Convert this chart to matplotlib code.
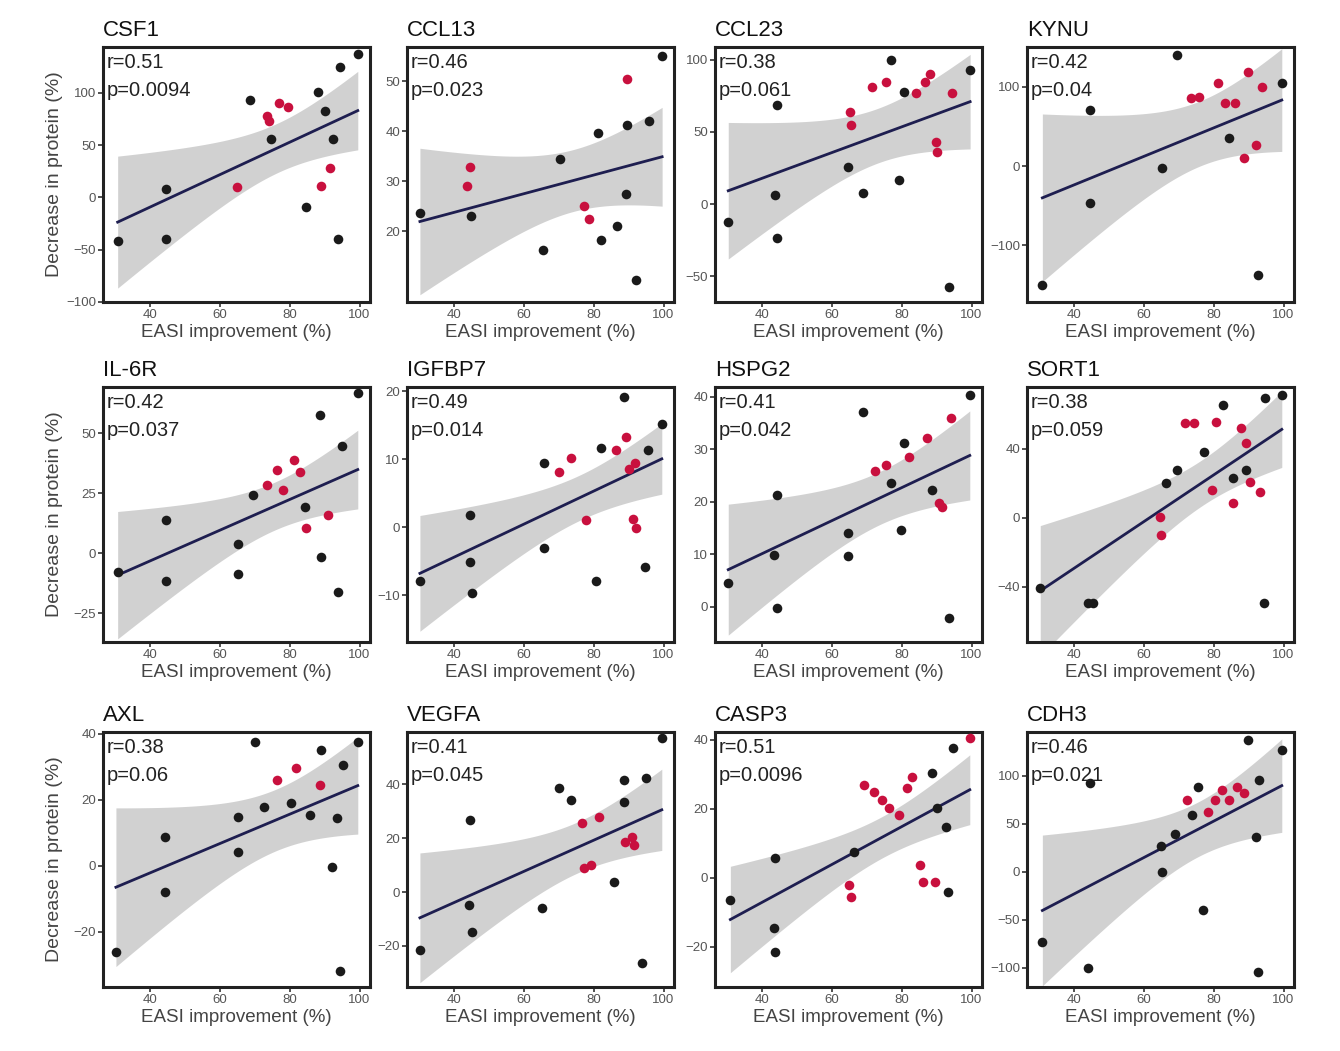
import numpy as np
import matplotlib
matplotlib.use("Agg")
import matplotlib.pyplot as plt

plt.rcParams['font.family'] = ['Liberation Sans', 'DejaVu Sans']

# ---------------- data ----------------
CSF1_X = [30.7, 44.5, 44.5, 64.9, 68.7, 73.5, 74.1, 74.7, 76.8, 79.6, 88.2, 90.1, 92.5, 91.5, 89.1, 84.8, 94.3, 93.9, 99.5]
CSF1_Y = [-42, 7.7, -39.4, 9.6, 93.3, 78.2, 72.8, 55.8, 90.1, 87, 100.7, 83, 55.8, 28.5, 10.9, -9.3, 124.7, -39.4, 137.5]
CSF1_RED = [0, 0, 0, 1, 0, 1, 1, 0, 1, 1, 0, 0, 0, 1, 1, 0, 0, 0, 0]

CCL13_X = [30.2, 44.5, 43.7, 44.7, 65.4, 70.2, 81.1, 77.3, 78.7, 82.0, 86.7, 89.5, 95.7, 89.5, 99.6, 92.1, 89.2]
CCL13_Y = [23.7, 32.8, 29.1, 23.0, 16.3, 34.5, 39.6, 25.1, 22.5, 18.3, 21.1, 41.3, 42.0, 50.4, 55.1, 10.2, 27.4]
CCL13_RED = [0, 1, 1, 0, 0, 0, 0, 1, 1, 0, 0, 0, 0, 1, 0, 0, 0]

CCL23_X = [30.3, 44.2, 43.8, 44.2, 64.7, 68.9, 65.1, 65.6, 71.6, 75.4, 76.8, 79.2, 80.6, 84.0, 86.8, 88.2, 94.4, 89.7, 90.1, 99.6, 93.5]
CCL23_Y = [-12.3, 68.8, 6.3, -23.8, 25.9, 7.4, 64.1, 54.9, 81.5, 84.9, 100, 16.7, 78, 77, 84.9, 90.6, 77, 43.3, 36.3, 93, -57.4]
CCL23_RED = [0, 0, 0, 0, 0, 0, 1, 1, 1, 1, 0, 0, 0, 1, 1, 1, 1, 1, 1, 0, 0]

KYNU_X = [30.9, 44.5, 44.5, 65.3, 69.6, 73.5, 75.9, 81.1, 83.1, 86.0, 89.9, 93.8, 99.5, 84.4, 92.2, 88.8, 92.6]
KYNU_Y = [-150.6, 70.9, -47.3, -2.9, 140.5, 85.7, 87.8, 104.6, 79.3, 79.3, 119.4, 100.4, 104.6, 35, 26.6, 9.7, -138]
KYNU_RED = [0, 0, 0, 0, 0, 1, 1, 1, 1, 1, 1, 1, 0, 0, 1, 1, 0]

IL6R_X = [30.7, 44.5, 44.5, 65.2, 65.2, 69.5, 73.4, 76.3, 78.2, 81.1, 83.0, 88.8, 95.0, 84.4, 84.8, 91.1, 89.1, 93.9, 99.5]
IL6R_Y = [-7.8, 13.75, -11.7, 4, -8.5, 24.2, 28.3, 34.6, 26.4, 38.75, 33.9, 57.5, 44.7, 19.3, 10.3, 15.8, -1.5, -16.1, 66.5]
IL6R_RED = [0, 0, 0, 0, 0, 0, 1, 1, 1, 1, 1, 0, 0, 0, 1, 1, 0, 0, 0]

IGFBP7_X = [30.2, 44.6, 44.6, 45.1, 65.7, 65.7, 70.0, 73.4, 77.7, 80.6, 82.0, 86.3, 89.2, 88.8, 91.7, 91.2, 92.2, 94.6, 95.5, 99.5, 90.2]
IGFBP7_Y = [-8.0, 1.8, -5.1, -9.75, -3.1, 9.4, 8.1, 10.1, 1.0, -8.0, 11.6, 11.3, 13.3, 19.2, 9.4, 1.2, -0.2, -5.8, 11.3, 15.2, 8.5]
IGFBP7_RED = [0, 0, 0, 0, 0, 0, 1, 1, 1, 0, 0, 1, 1, 0, 1, 1, 1, 0, 0, 0, 1]

HSPG2_X = [30.3, 44.2, 43.3, 44.2, 64.7, 64.7, 68.9, 72.3, 75.6, 79.8, 80.6, 82.1, 87.3, 94.0, 88.7, 90.6, 91.6, 93.5, 99.5, 76.8]
HSPG2_Y = [4.5, 21.3, 9.9, -0.25, 14, 9.6, 37.2, 25.8, 27, 14.7, 31.2, 28.6, 32.1, 35.9, 22.3, 19.7, 19, -2.2, 40.4, 23.6]
HSPG2_RED = [0, 0, 0, 0, 0, 0, 0, 1, 1, 0, 0, 1, 1, 1, 0, 1, 1, 0, 0, 0]

SORT1_X = [30.3, 44.0, 45.5, 64.5, 64.9, 66.2, 69.5, 71.9, 74.4, 77.3, 80.6, 82.6, 79.6, 85.4, 85.4, 87.8, 89.3, 90.3, 93.3, 89.3, 94.8, 99.5, 94.4]
SORT1_Y = [-40.8, -49.5, -49.5, 0.8, -9.9, 20.1, 27.8, 54.9, 54.9, 38.4, 55.8, 65.5, 16.2, 8.5, 23, 52, 27.8, 21, 15.3, 43.3, 69.4, 71.3, -49.5]
SORT1_RED = [0, 0, 0, 1, 1, 0, 0, 1, 1, 0, 1, 0, 1, 1, 0, 1, 0, 1, 1, 1, 0, 0, 0]

AXL_X = [30.2, 44.3, 44.3, 65.2, 65.2, 70.1, 72.5, 76.4, 80.3, 81.8, 88.6, 89.1, 85.7, 93.5, 95.4, 92.0, 94.5, 99.5]
AXL_Y = [-26, 8.9, -7.8, 4.3, 14.9, 37.7, 18, 26.1, 19, 29.6, 24.5, 35.2, 15.5, 14.5, 30.6, -0.2, -32, 37.7]
AXL_RED = [0, 0, 0, 0, 0, 0, 0, 1, 0, 1, 1, 0, 0, 0, 0, 0, 0, 0]

VEGFA_X = [30.2, 44.6, 44.2, 45.1, 65.2, 70.0, 73.4, 81.5, 76.7, 77.2, 79.1, 85.7, 88.6, 88.6, 91.0, 91.5, 89.1, 94.9, 93.8, 99.5]
VEGFA_Y = [-21.5, 26.7, -4.8, -14.7, -6, 38.4, 34.1, 27.9, 25.4, 8.8, 10, 3.8, 33.5, 41.5, 20.5, 17.3, 18.4, 42.1, -26.4, 57]
VEGFA_RED = [0, 0, 0, 0, 0, 0, 0, 1, 1, 1, 1, 0, 0, 0, 1, 1, 1, 0, 0, 0]

CASP3_X = [30.9, 43.8, 43.4, 43.8, 66.4, 64.9, 65.4, 69.2, 72.0, 74.4, 76.3, 79.1, 81.5, 82.9, 88.6, 90.0, 92.8, 85.2, 86.2, 89.5, 93.3, 94.8, 99.5]
CASP3_Y = [-6.4, 5.7, -14.6, -21.4, 7.6, -2, -5.4, 27, 25, 22.6, 20.2, 18.2, 26, 29.4, 30.3, 20.2, 14.9, 3.8, -1.1, -1.1, -4, 37.6, 40.5]
CASP3_RED = [0, 0, 0, 0, 0, 1, 1, 1, 1, 1, 1, 1, 1, 1, 0, 0, 0, 1, 1, 1, 0, 0, 1]

CDH3_X = [30.9, 44.5, 44.0, 65.3, 75.4, 76.9, 72.3, 73.7, 78.5, 80.4, 82.4, 84.3, 86.8, 88.7, 93.1, 92.2, 89.7, 99.5, 92.6, 64.9, 69.0]
CDH3_Y = [-72.6, 92.4, -100.3, 0.3, 88.9, -39.6, 75, 59.4, 62.2, 75, 85.4, 75, 88.9, 82, 95.8, 36.8, 137.5, 127, -103.8, 27, 40]
CDH3_RED = [0, 0, 0, 0, 0, 0, 1, 0, 1, 1, 1, 1, 1, 1, 0, 0, 0, 0, 0, 0, 0]

TITLES = ["CSF1", "CCL13", "CCL23", "KYNU", "IL-6R", "IGFBP7", "HSPG2", "SORT1",
          "AXL", "VEGFA", "CASP3", "CDH3"]
R_TEXT = ["r=0.51", "r=0.46", "r=0.38", "r=0.42", "r=0.42", "r=0.49", "r=0.41", "r=0.38",
          "r=0.38", "r=0.41", "r=0.51", "r=0.46"]
P_TEXT = ["p=0.0094", "p=0.023", "p=0.061", "p=0.04", "p=0.037", "p=0.014", "p=0.042", "p=0.059",
          "p=0.06", "p=0.045", "p=0.0096", "p=0.021"]
Y_TICKS = [[-100, -50, 0, 50, 100], [20, 30, 40, 50], [-50, 0, 50, 100], [-100, 0, 100],
           [-25, 0, 25, 50], [-10, 0, 10, 20], [0, 10, 20, 30, 40], [-40, 0, 40],
           [-20, 0, 20, 40], [-20, 0, 20, 40], [-20, 0, 20, 40], [-100, -50, 0, 50, 100]]
Y_LIMS = [(-100, 144), (5.8, 56.9), (-68, 109), (-172, 150.6),
          (-37, 69.2), (-16.9, 20.6), (-6.7, 41.9), (-71.9, 75.9),
          (-36.7, 40.6), (-35.2, 59.3), (-31.6, 42.3), (-119.8, 145.8)]
X_TICKS = [40, 60, 80, 100]
X_LIM = (26.5, 103)

XS = [CSF1_X, CCL13_X, CCL23_X, KYNU_X, IL6R_X, IGFBP7_X, HSPG2_X, SORT1_X,
      AXL_X, VEGFA_X, CASP3_X, CDH3_X]
YS = [CSF1_Y, CCL13_Y, CCL23_Y, KYNU_Y, IL6R_Y, IGFBP7_Y, HSPG2_Y, SORT1_Y,
      AXL_Y, VEGFA_Y, CASP3_Y, CDH3_Y]
REDS = [CSF1_RED, CCL13_RED, CCL23_RED, KYNU_RED, IL6R_RED, IGFBP7_RED, HSPG2_RED, SORT1_RED,
        AXL_RED, VEGFA_RED, CASP3_RED, CDH3_RED]

# ---------------- layout ----------------
W, H = 1340, 1051
fig = plt.figure(figsize=(W / 100, H / 100), dpi=100)
fig.patch.set_facecolor("white")

col_left = [103, 407, 715, 1027]
row_top = [47, 387, 732]
aw, ah = 267, 255

BLACK_PT = "#1a1a1a"
RED_PT = "#c8103e"
LINE_C = "#1e1e50"
BAND_C = "#9a9a9a"


def t975(df):
    z = 1.959964
    return z + (z**3 + z) / (4 * df) + (5 * z**5 + 16 * z**3 + 3 * z) / (96 * df**2)


for i in range(12):
    r, c = divmod(i, 4)
    left = col_left[c] / W
    bottom = 1 - (row_top[r] + ah) / H
    ax = fig.add_axes([left, bottom, aw / W, ah / H])
    x = np.asarray(XS[i], float)
    y = np.asarray(YS[i], float)
    red = np.asarray(REDS[i], bool)

    # linear fit with 95% confidence band
    n = len(x)
    b1, b0 = np.polyfit(x, y, 1)
    xx = np.linspace(x.min(), x.max(), 100)
    yy = b0 + b1 * xx
    resid = y - (b0 + b1 * x)
    s = np.sqrt(np.sum(resid**2) / (n - 2))
    sxx = np.sum((x - x.mean())**2)
    se = s * np.sqrt(1 / n + (xx - x.mean())**2 / sxx)
    tq = t975(n - 2)
    ax.fill_between(xx, yy - tq * se, yy + tq * se, color=BAND_C, alpha=0.45, lw=0, zorder=1)
    ax.plot(xx, yy, color=LINE_C, lw=2.0, zorder=2)

    ax.scatter(x[~red], y[~red], s=48, color=BLACK_PT, lw=0, zorder=3)
    ax.scatter(x[red], y[red], s=48, color=RED_PT, lw=0, zorder=4)

    ax.set_xlim(*X_LIM)
    ax.set_ylim(*Y_LIMS[i])
    ax.set_xticks(X_TICKS)
    ax.set_yticks(Y_TICKS[i])
    ax.tick_params(axis="both", direction="out", length=3.5, width=1.2, color="#333333",
                   labelsize=9.5, labelcolor="#555555", pad=1.5)
    for sp in ax.spines.values():
        sp.set_linewidth(2.2)
        sp.set_color("#222222")
    ax.set_facecolor("white")

    ax.text(0.0, 1.025, TITLES[i], transform=ax.transAxes, ha="left", va="bottom",
            fontsize=16, color="#111111")
    ax.text(0.015, 0.94, R_TEXT[i], transform=ax.transAxes, ha="left", va="center",
            fontsize=14.5, color="#222222", zorder=5)
    ax.text(0.015, 0.83, P_TEXT[i], transform=ax.transAxes, ha="left", va="center",
            fontsize=14.5, color="#222222", zorder=5)

    ax.text(0.5, -0.085, "EASI improvement (%)", transform=ax.transAxes,
            ha="center", va="top", fontsize=13.5, color="#444444")
    if c == 0:
        ax.text(-0.18, 0.5, "Decrease in protein (%)", transform=ax.transAxes,
                ha="center", va="center", rotation=90, fontsize=14, color="#444444")

fig.savefig("out.png", dpi=100, facecolor="white")
